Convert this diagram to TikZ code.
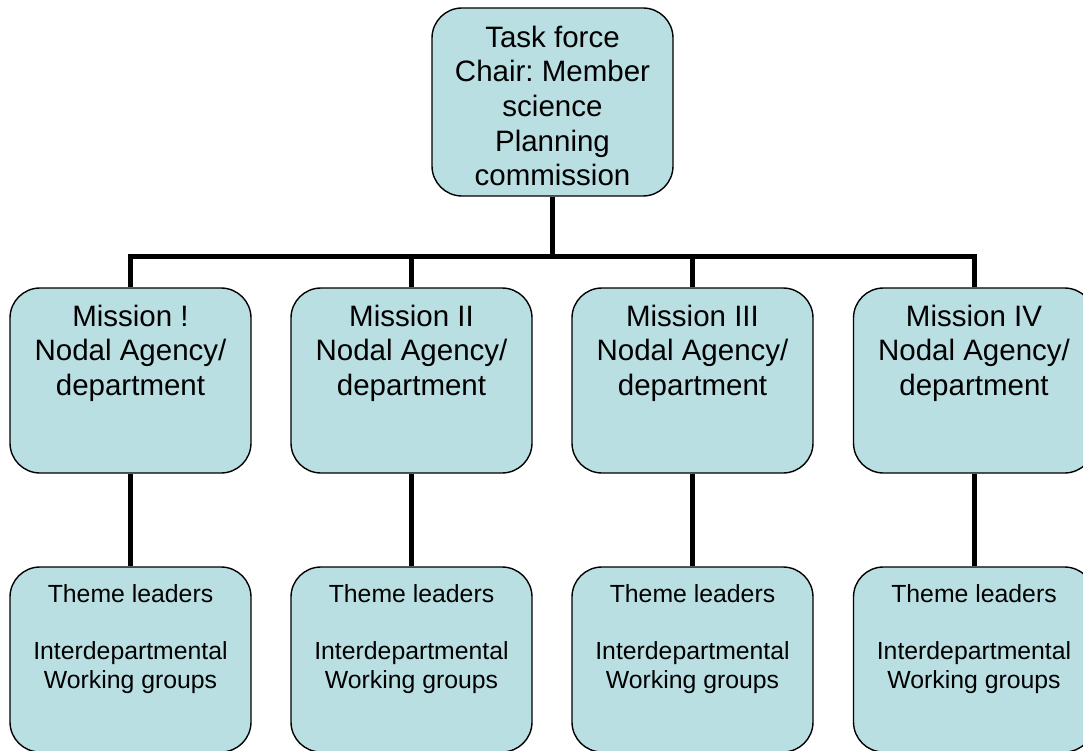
\documentclass[tikz,border=0pt]{standalone}
\usepackage{fontspec}
\setmainfont{Liberation Sans}
\frenchspacing
\definecolor{boxfill}{RGB}{185,223,227}
\begin{document}
\begin{tikzpicture}[x=1pt,y=-1pt,
  box/.style={draw=black, line width=1.4pt, fill=boxfill, rounded corners=30pt,
              minimum width=241pt, inner sep=0pt},
  bigtext/.style={align=center, inner sep=0pt, font=\fontsize{29.5}{34.6}\selectfont},
  smalltext/.style={align=center, inner sep=0pt, font=\fontsize{24.8}{29}\selectfont},
  conn/.style={line width=5pt}]
\useasboundingbox (0,0) rectangle (1083,751);
\begin{scope}
\clip (0,0) rectangle (1083,751);

% top box
\node[box, minimum height=188pt] (top) at (552.5,102) {};
\node[bigtext] (toptext) at (552.5,106) {Task force\\Chair: Member\\science\\Planning\\commission};

% mission boxes and theme boxes
\foreach \i/\x/\t in {1/130.5/{Mission !}, 2/411.5/{Mission II}, 3/692.5/{Mission III}, 4/974/{Mission IV}} {
  \node[box, minimum height=185pt] (m\i) at (\x,380.5) {};
  \node[bigtext] (mt\i) at (\x,353) {\t\\Nodal Agency/\\department};
  \node[box, minimum height=185pt] (w\i) at (\x,659.5) {};
  \node[smalltext] (wt\i) at (\x,639) {Theme leaders\\[28.5pt]Interdepartmental\\Working groups};
}

% connectors
\coordinate (bus) at (552.5,256);
\draw[conn] (top.south) -- (bus);
\foreach \i in {1,2,3,4} {
  \draw[conn] (m\i.north) |- (bus);
  \draw[conn] (m\i.south) -- (w\i.north);
}
\end{scope}
\end{tikzpicture}
\end{document}
